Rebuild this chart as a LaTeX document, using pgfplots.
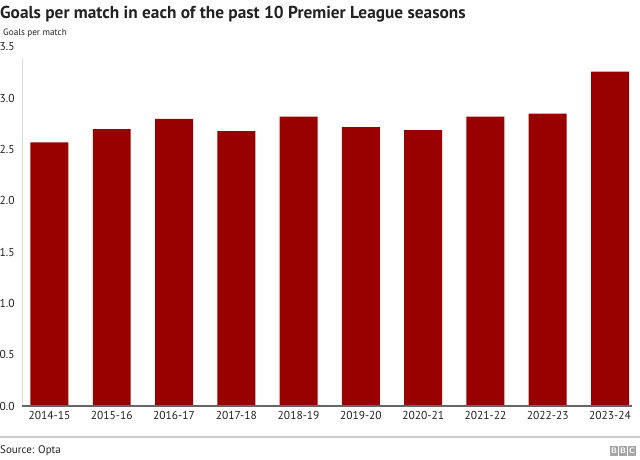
\documentclass[border=0pt]{standalone}
\usepackage{pgfplots}
\pgfplotsset{compat=1.18}
\usepackage{fontspec}
\setmainfont{PT Sans}
\definecolor{barred}{HTML}{990000}
\definecolor{txt}{HTML}{222222}
\definecolor{axisgray}{HTML}{666666}
\definecolor{lightgray}{HTML}{DDDDDD}
\definecolor{sepgray}{HTML}{CCCCCC}
\begin{document}
\begin{tikzpicture}[x=1pt,y=1pt]
\useasboundingbox (0,0) rectangle (640,460);
\node[anchor=base west, inner sep=0, text=txt] at (0,441)
  {\fontsize{17.3}{20}\selectfont\bfseries Goals per match in each of the past 10 Premier League seasons};
\node[anchor=base west, inner sep=0, text=txt] at (3,424)
  {\fontsize{9.2}{10}\selectfont Goals per match};
\begin{axis}[
  at={(22pt,54pt)}, anchor=south west,
  scale only axis, width=610pt, height=359pt,
  xmin=-0.441, xmax=9.353, ymin=0, ymax=3.5,
  axis line style={draw=none},
  ytick={0,0.5,...,3.5},
  yticklabel style={anchor=west, xshift=-26pt, yshift=0pt, text=txt, font=\fontsize{11.5}{12}\selectfont},
  yticklabel={\pgfmathprintnumber[fixed,fixed zerofill,precision=1]{\tick}},
  xtick=data,
  xticklabels={2014-15,2015-16,2016-17,2017-18,2018-19,2019-20,2020-21,2021-22,2022-23,2023-24},
  xticklabel style={text=txt, font=\fontsize{11.5}{12}\selectfont, yshift=-2pt},
  /pgf/number format/assume math mode=true,
  major tick length=0pt,
  tick style={draw=none},
  ybar, bar width=0.61,
  clip=false,
]
\draw[lightgray, line width=1pt] (rel axis cs:0,0) -- (axis cs:-0.441,3.39);
\addplot[fill=barred, draw=none] coordinates {
  (0,2.57) (1,2.70) (2,2.80) (3,2.68) (4,2.82) (5,2.72) (6,2.69) (7,2.82) (8,2.85) (9,3.26)
};
\draw[axisgray, line width=1.6pt] (rel axis cs:0,0) -- (rel axis cs:1,0);
\end{axis}
\draw[sepgray, line width=2pt] (0,23) -- (640,23);
\node[anchor=base west, inner sep=0, text=txt] at (0,6)
  {\fontsize{11}{12}\selectfont Source: Opta};
\foreach \i/\l in {0/B,1/B,2/C} {
  \fill[gray!70] (610+\i*9,4) rectangle (618+\i*9,14);
  \node[text=white, inner sep=0, font=\fontsize{8}{8}\sffamily\bfseries] at (614+\i*9,9) {\l};
}
\end{tikzpicture}
\end{document}
